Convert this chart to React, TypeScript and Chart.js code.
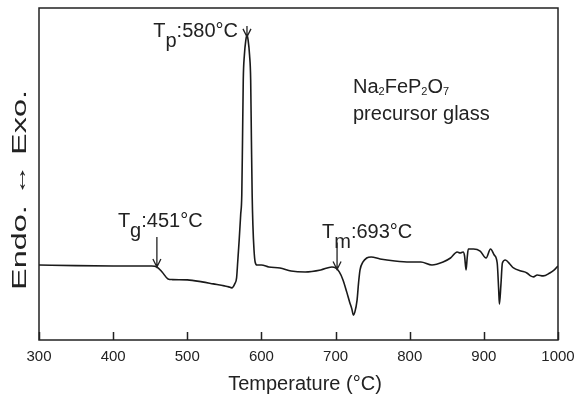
import { useEffect, useRef } from "react";
import { Chart, registerables } from "chart.js";

Chart.register(...registerables);

// ---- data ----
const temperatures = [
  300, 350, 400, 430, 452, 459, 466, 474, 480, 500, 520, 535, 550, 556, 560,
  564, 566.5, 568, 570, 572, 573.5, 574.5, 575.5, 577, 579, 580.5, 582, 584,
  585.5, 586.5, 587.5, 588.5, 590, 591.5, 594, 600, 610, 625, 640, 659, 680,
  695, 700, 705, 710, 715, 719, 722, 724, 726, 729, 731, 733, 737, 742, 748,
  760, 780, 800, 815, 830, 845, 855, 864, 868, 872, 874, 876, 877.5, 879, 886,
  895, 903, 909, 914, 918, 920, 921, 923, 925, 929, 935, 940, 950, 958, 963,
  967, 972, 980, 989, 995, 1000,
];
const signal = [
  22.6, 22.4, 22.3, 22.3, 22.3, 22.0, 20.5, 18.4, 18.2, 18.1, 17.5, 16.9, 16.3, 16.0, 15.7,
  16.9, 18.7, 23.5, 30.1, 37.7, 43.7, 60.2, 78.3, 85.8, 90.4, 91.9, 90.4, 85.8,
  78.3, 60.2, 43.7, 34.6, 27.1, 23.5, 22.6, 22.6, 22.0, 21.7, 20.8, 20.5, 21.1,
  22.0, 21.7, 20.5, 18.1, 14.5, 11.4, 9.3, 7.5, 8.4, 12.0, 17.2, 21.1, 23.5, 24.7, 25.0,
  24.4, 23.8, 23.5, 23.5, 22.6, 23.5, 24.7, 26.5, 26.2, 26.5, 25.3, 21.1, 24.7, 27.4, 27.4,
  26.8, 24.7, 27.4, 25.6, 23.2, 15.1, 10.8, 16.6, 23.2, 24.1, 22.9, 21.7, 20.8, 20.2, 19.3,
  19.0, 19.6, 19.3, 20.2, 21.1, 22.3,
];
const xTickValues = [300, 400, 500, 600, 700, 800, 900, 1000];
const eventSymbols = ["g", "p", "m"];
const eventLabels = [":451°C", ":580°C", ":693°C"];
const eventArrowAt = [459, 580.5, 702];

const xTitle = "Temperature (°C)";
const yTitle = "Endo. ↔ Exo.";
const sampleName = [
  ["Na", false],
  ["2", true],
  ["FeP", false],
  ["2", true],
  ["O", false],
  ["7", true],
] as [string, boolean][];
const sampleNote = "precursor glass";

const INK = "#222222";
const FONT = '"Liberation Sans", Arial, Helvetica, sans-serif';

function valueAt(t: number): number {
  for (let i = 1; i < temperatures.length; i++) {
    if (temperatures[i] >= t) {
      const t0 = temperatures[i - 1];
      const t1 = temperatures[i];
      const f = (t - t0) / (t1 - t0);
      return signal[i - 1] + f * (signal[i] - signal[i - 1]);
    }
  }
  return signal[signal.length - 1];
}

function drawArrow(ctx: CanvasRenderingContext2D, x: number, top: number, tip: number) {
  ctx.beginPath();
  ctx.moveTo(x, top);
  ctx.lineTo(x, tip);
  ctx.moveTo(x - 4, tip - 8);
  ctx.lineTo(x, tip);
  ctx.lineTo(x + 4, tip - 8);
  ctx.stroke();
}

function drawEventLabel(
  ctx: CanvasRenderingContext2D,
  startX: number,
  baseline: number,
  sub: string,
  rest: string
) {
  ctx.font = `20px ${FONT}`;
  ctx.textAlign = "left";
  ctx.textBaseline = "alphabetic";
  ctx.fillText("T", startX, baseline);
  const wT = ctx.measureText("T").width;
  ctx.fillText(sub, startX + wT, baseline + 10);
  const wS = ctx.measureText(sub).width;
  ctx.fillText(rest, startX + wT + wS, baseline);
}

function eventLabelWidth(ctx: CanvasRenderingContext2D, sub: string, rest: string) {
  ctx.font = `20px ${FONT}`;
  return ctx.measureText("T" + sub + rest).width;
}

const decorations = {
  id: "decorations",
  afterDraw(chart: any) {
    const { ctx, chartArea: a, scales } = chart;
    const x = scales.x;
    const y = scales.y;
    ctx.save();
    ctx.strokeStyle = INK;
    ctx.fillStyle = INK;
    ctx.lineWidth = 1.5;
    // frame
    ctx.strokeRect(a.left, a.top, a.right - a.left, a.bottom - a.top);
    // inward ticks on bottom axis
    ctx.beginPath();
    for (const t of xTickValues) {
      const px = Math.round(x.getPixelForValue(t)) + 0.5;
      ctx.moveTo(px, a.bottom);
      ctx.lineTo(px, a.bottom - 8);
    }
    ctx.stroke();

    // events
    ctx.lineWidth = 1.3;
    eventArrowAt.forEach((t, i) => {
      const ax = x.getPixelForValue(t);
      const tip = y.getPixelForValue(valueAt(t));
      if (i === 0) {
        const top = tip - 30;
        drawArrow(ctx, ax, top, tip);
        drawEventLabel(ctx, ax - 39, top - 10, eventSymbols[i], eventLabels[i]);
      } else if (i === 1) {
        const tipP = tip + 2;
        const top = tipP - 11;
        drawArrow(ctx, ax, top, tipP);
        const w = eventLabelWidth(ctx, eventSymbols[i], eventLabels[i]);
        drawEventLabel(ctx, ax - 9 - w, tipP, eventSymbols[i], eventLabels[i]);
      } else {
        const top = tip - 27;
        drawArrow(ctx, ax, top, tip);
        drawEventLabel(ctx, ax - 15, top - 5, eventSymbols[i], eventLabels[i]);
      }
    });

    // sample name
    let sx = 353;
    const sy = 93;
    ctx.textAlign = "left";
    ctx.textBaseline = "alphabetic";
    for (const [txt, isSub] of sampleName) {
      ctx.font = isSub ? `11px ${FONT}` : `20px ${FONT}`;
      ctx.fillText(txt, sx, isSub ? sy + 2 : sy);
      sx += ctx.measureText(txt).width;
    }
    ctx.font = `20px ${FONT}`;
    ctx.fillText(sampleNote, 353, 120);

    // axis titles
    ctx.font = `20px ${FONT}`;
    ctx.textAlign = "center";
    ctx.fillText(xTitle, 305, 390);
    ctx.save();
    ctx.translate(26, 190);
    ctx.rotate(-Math.PI / 2);
    ctx.scale(1.62, 1);
    ctx.fillText(yTitle, 0, 0);
    ctx.restore();

    ctx.restore();
  },
};

export default function App() {
  const ref = useRef<HTMLCanvasElement | null>(null);
  useEffect(() => {
    if (!ref.current) return;
    const chart = new Chart(ref.current, {
      type: "line",
      data: {
        datasets: [
          {
            data: temperatures.map((t, i) => ({ x: t, y: signal[i] })),
            borderColor: "#1a1a1a",
            borderWidth: 1.6,
            pointRadius: 0,
            fill: false,
            cubicInterpolationMode: "monotone",
          },
        ],
      },
      options: {
        animation: false,
        responsive: false,
        devicePixelRatio: 1,
        layout: { padding: { top: 8, right: 17, left: 0, bottom: 0 } },
        plugins: { legend: { display: false }, tooltip: { enabled: false } },
        scales: {
          x: {
            type: "linear",
            min: 300,
            max: 1000,
            grid: { display: false, drawTicks: false },
            border: { display: false },
            ticks: {
              stepSize: 100,
              padding: 8,
              color: INK,
              font: { family: FONT, size: 15 },
              callback: (v: any) => String(v),
            },
            afterFit: (s: any) => {
              s.height = 56;
              s.paddingLeft = 0;
              s.paddingRight = 0;
            },
          },
          y: {
            min: 0,
            max: 100,
            grid: { display: false, drawTicks: false },
            border: { display: false },
            ticks: { display: false },
            afterFit: (s: any) => {
              s.width = 39;
              s.paddingTop = 0;
              s.paddingBottom = 0;
            },
          },
        },
      },
      plugins: [decorations],
    });
    return () => chart.destroy();
  }, []);
  return (
    <canvas
      ref={ref}
      width={575}
      height={396}
      style={{ position: "absolute", left: 0, top: 0, width: 575, height: 396, background: "#fff" }}
    />
  );
}
